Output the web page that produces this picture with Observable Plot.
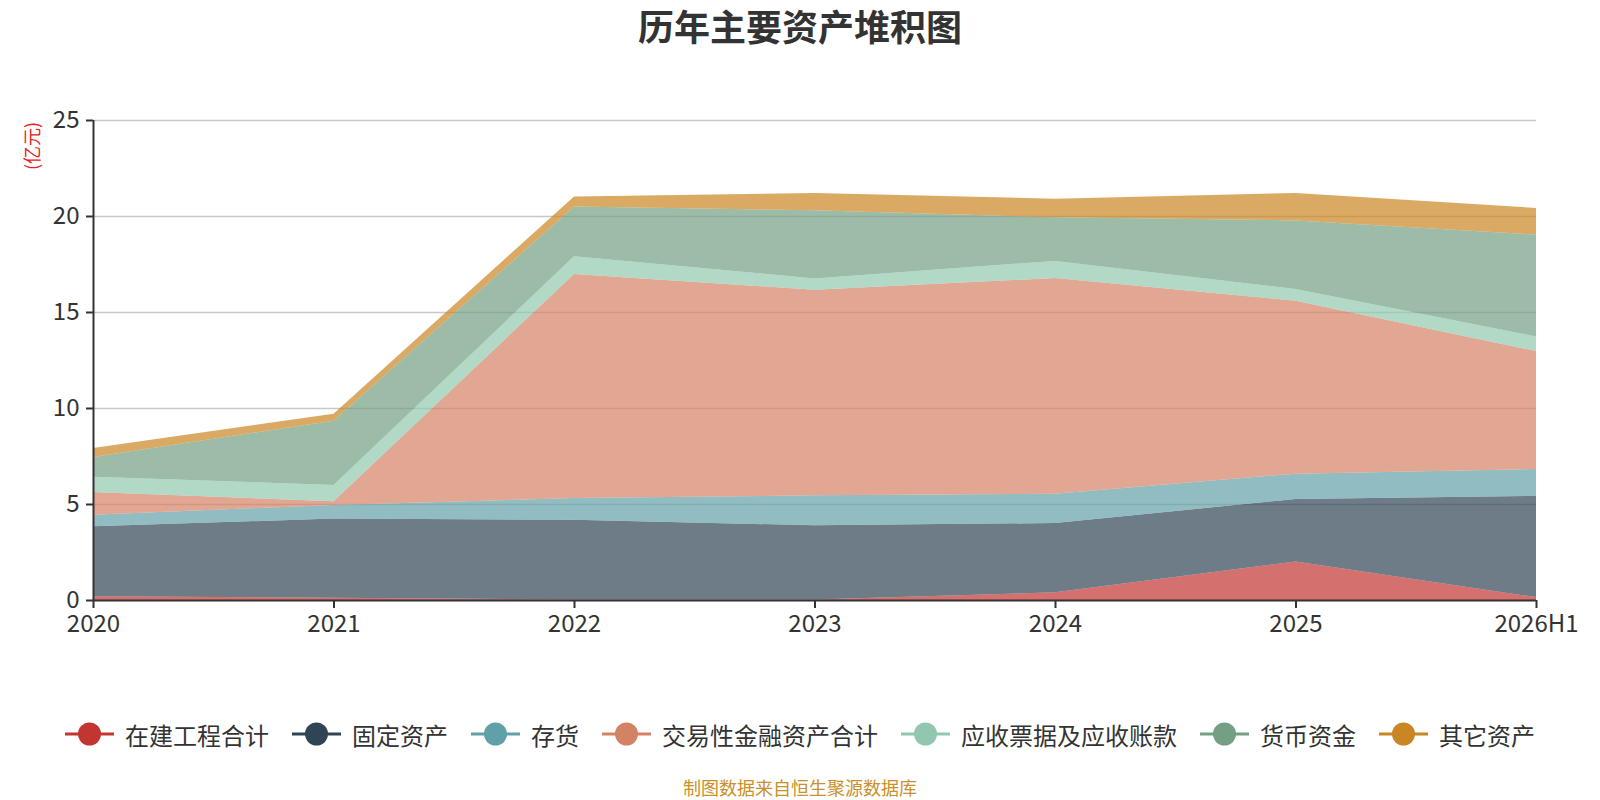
<!DOCTYPE html>
<html>
<head>
<meta charset="utf-8">
<script src="https://cdn.jsdelivr.net/npm/d3@7"></script>
<script src="https://cdn.jsdelivr.net/npm/@observablehq/plot@0.6"></script>
<style>
  html, body { margin: 0; padding: 0; background: #fff; }
  body { font-family: "Noto Sans CJK SC", "Noto Sans", sans-serif; }
  #wrap { position: relative; width: 1600px; height: 800px; overflow: hidden; }
  #title { position: absolute; left: 0; top: 0; width: 1600px; height: 50px; line-height: 50px; text-align: center; font-size: 36px; font-weight: bold; color: #333; }
  #chart { position: absolute; left: 0; top: 60px; }
  #unit { position: absolute; left: 31px; top: 146px; transform: translate(-50%, -50%) rotate(-90deg); color: #e82020; font-size: 18px; white-space: nowrap; }
  #legend { position: absolute; left: 0; top: 714px; width: 1600px; height: 40px; display: flex; justify-content: center; align-items: center; }
  .item { display: flex; align-items: center; margin: 0 11.5px; font-size: 24px; color: #333; }
  .item svg { margin-right: 11px; }
  #caption { position: absolute; left: 0; top: 777px; width: 1600px; text-align: center; font-size: 18px; color: #c9902c; line-height: 20px; }
</style>
</head>
<body>
<div id="wrap">
  <div id="title">历年主要资产堆积图</div>
  <div id="chart"></div>
  <div id="unit">(亿元)</div>
  <div id="legend"></div>
  <div id="caption">制图数据来自恒生聚源数据库</div>
</div>
<script>
const years = ["2020", "2021", "2022", "2023", "2024", "2025", "2026H1"];
const seriesNames = ["在建工程合计", "固定资产", "存货", "交易性金融资产合计", "应收票据及应收账款", "货币资金", "其它资产"];
const seriesColors = ["#c23531", "#2f4554", "#61a0a8", "#d48265", "#91c7ae", "#749f83", "#ca8622"];
const yTicks = [0, 5, 10, 15, 20, 25];

const construction = [0.19, 0.12, 0.02, 0.02, 0.40, 2.01, 0.15];
const fixedAssets  = [3.65, 4.12, 4.16, 3.87, 3.61, 3.25, 5.27];
const inventory    = [0.60, 0.71, 1.13, 1.56, 1.53, 1.32, 1.40];
const tradingFin   = [1.19, 0.19, 11.67, 10.71, 11.23, 9.01, 6.15];
const receivables  = [0.79, 0.85, 0.92, 0.59, 0.89, 0.61, 0.76];
const cash         = [1.03, 3.35, 2.60, 3.55, 2.27, 3.57, 5.30];
const otherAssets  = [0.47, 0.36, 0.52, 0.90, 0.97, 1.43, 1.39];

const seriesValues = [construction, fixedAssets, inventory, tradingFin, receivables, cash, otherAssets];

const data = [];
seriesNames.forEach((name, s) => {
  years.forEach((y, i) => data.push({ series: name, i, value: seriesValues[s][i] }));
});

const idx = years.map((_, i) => i);

const chart = Plot.plot({
  width: 1600,
  height: 620,
  marginTop: 60,
  marginBottom: 80,
  marginLeft: 93,
  marginRight: 64,
  style: { fontFamily: '"Noto Sans CJK SC", "Noto Sans", sans-serif', color: "#333", background: "transparent" },
  x: { domain: [0, years.length - 1], axis: null },
  y: { domain: [0, 25], axis: null },
  color: { domain: seriesNames, range: seriesColors },
  marks: [
    Plot.ruleY(yTicks.filter(d => d > 0), { stroke: "#c8c8c8", strokeWidth: 1.5 }),
    Plot.areaY(data, { x: "i", y: "value", fill: "series", fillOpacity: 0.7, order: seriesNames }),
    Plot.ruleY([0], { stroke: "#333", strokeWidth: 2 }),
    Plot.ruleX([0], { stroke: "#333", strokeWidth: 2 }),
    Plot.axisX({ ticks: idx, tickFormat: i => years[i], tickSize: 8, tickPadding: 6, fontSize: 24, strokeWidth: 2, color: "#333", label: null }),
    Plot.axisY({ ticks: yTicks, tickSize: 7, tickPadding: 7, fontSize: 24, strokeWidth: 2, color: "#333", label: null })
  ]
});
document.getElementById("chart").appendChild(chart);

const legend = document.getElementById("legend");
seriesNames.forEach((name, s) => {
  const item = document.createElement("div");
  item.className = "item";
  item.innerHTML = `<svg width="49" height="26"><line x1="0" x2="49" y1="13" y2="13" stroke="${seriesColors[s]}" stroke-width="3"/><circle cx="24.5" cy="13" r="11.5" fill="${seriesColors[s]}"/></svg><span>${name}</span>`;
  legend.appendChild(item);
});
</script>
</body>
</html>
